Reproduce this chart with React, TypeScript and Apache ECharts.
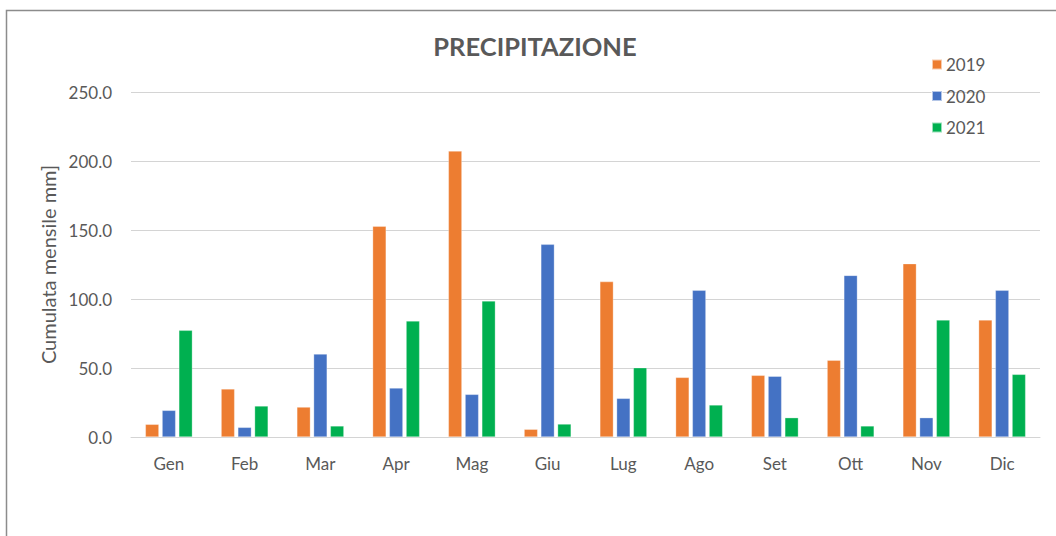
import React, { useEffect, useRef } from "react";
import * as echarts from "echarts";

const months = ["Gen", "Feb", "Mar", "Apr", "Mag", "Giu", "Lug", "Ago", "Set", "Ott", "Nov", "Dic"];
const years = ["2019", "2020", "2021"];
const values2019 = [9.2, 34.8, 21.7, 152.7, 207.2, 5.6, 112.6, 43.2, 44.7, 55.6, 125.6, 84.8];
const values2020 = [19.3, 7.0, 60.1, 35.5, 30.9, 139.6, 28.0, 106.3, 44.0, 117.1, 14.0, 106.3];
const values2021 = [77.3, 22.5, 8.0, 84.1, 98.6, 9.4, 50.2, 23.2, 14.0, 8.0, 84.8, 45.4];
const colors = ["#ED7D31", "#4472C4", "#00B050"];

const FONT = "Lato, 'Open Sans', sans-serif";
const TEXT = "#595959";

export default function App() {
  const ref = useRef<HTMLDivElement>(null);
  useEffect(() => {
    if (!ref.current) return;
    const chart = echarts.init(ref.current, null, { renderer: "svg" });
    const seriesData = [values2019, values2020, values2021];
    chart.setOption({
      animation: false,
      backgroundColor: "#fff",
      title: {
        text: "PRECIPITAZIONE",
        left: 530,
        textAlign: "center",
        top: 28,
        textStyle: { fontFamily: FONT, fontWeight: "bold", fontSize: 25.5, color: TEXT },
      },
      legend: {
        orient: "vertical",
        left: 926,
        top: 51,
        itemWidth: 10,
        itemHeight: 10,
        itemGap: 14.5,
        icon: "rect",
        data: years,
        textStyle: { fontFamily: FONT, fontSize: 17, color: TEXT, lineHeight: 17, padding: [0, 0, 0, -1] },
      },
      grid: { left: 131, right: 16, top: 92, bottom: 99 },
      xAxis: {
        type: "category",
        data: months,
        axisTick: { show: false },
        axisLine: { lineStyle: { color: "#d4d4d4", width: 1 } },
        axisLabel: { margin: 18, fontFamily: FONT, fontSize: 17, color: TEXT },
      },
      yAxis: {
        type: "value",
        min: 0,
        max: 250,
        interval: 50,
        name: "Cumulata mensile mm]",
        nameLocation: "middle",
        nameGap: 73,
        nameTextStyle: { fontFamily: FONT, fontSize: 20, color: TEXT },
        axisLabel: {
          margin: 19,
          fontFamily: FONT,
          fontSize: 17,
          color: TEXT,
          formatter: (v: number) => v.toFixed(1),
        },
        axisLine: { show: false },
        axisTick: { show: false },
        splitLine: { lineStyle: { color: "#d4d4d4", width: 1 } },
      },
      series: years.map((y, i) => ({
        name: y,
        type: "bar",
        data: seriesData[i],
        barWidth: 13.5,
        barGap: "24%",
        itemStyle: { color: colors[i], borderColor: "rgba(255,255,255,0.6)", borderWidth: 0.5 },
      })),
      graphic: [
        {
          type: "polyline",
          shape: { points: [[6.5, 536], [6.5, 10.5], [1056, 10.5]] },
          style: { stroke: "#8c8c8c", lineWidth: 1.5, fill: "none" },
          silent: true,
        },
      ],
    });
    return () => chart.dispose();
  }, []);
  return <div ref={ref} style={{ width: 1056, height: 536, position: "absolute", left: 0, top: 0 }} />;
}
